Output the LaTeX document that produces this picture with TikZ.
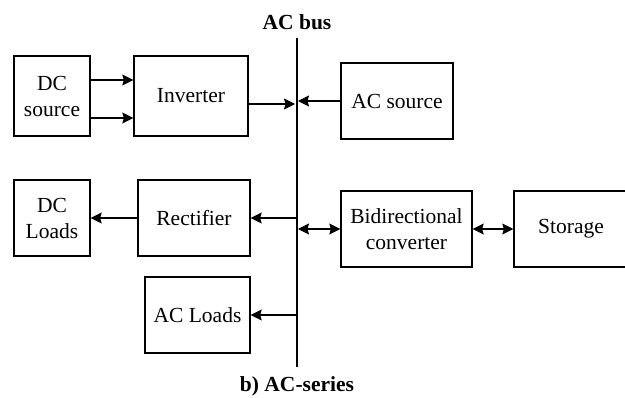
\documentclass[tikz,border=0pt]{standalone}
\usepackage{fontspec}
\setmainfont{Liberation Serif}
\newfontfamily\tnr{Liberation Serif}
\usetikzlibrary{arrows.meta}
\begin{document}
\begin{tikzpicture}[x=1pt,y=-1pt,
  blk/.style={draw,line width=1.3pt,inner sep=0pt,align=center,
    font=\tnr\fontsize{21.5}{26}\selectfont},
  arr/.style={line width=1.2pt,-{Stealth[length=11pt,width=11pt,inset=1.5pt]}},
  darr/.style={line width=1.2pt,{Stealth[length=11pt,width=11pt,inset=1.5pt]}-{Stealth[length=11pt,width=11pt,inset=1.5pt]}},
  lbl/.style={font=\tnr\bfseries\fontsize{21.5}{26}\selectfont}]
\useasboundingbox (0,0) rectangle (625,398);
% bus
\coordinate (bt) at (297,38);
\coordinate (bb) at (297,367);
\draw[line width=1.1pt] (bt) -- (bb);
\node[lbl] (buslbl) at (297,22) {AC bus};
\node[lbl] (cap) at (297,386) {b) AC-series};
% boxes
\node[blk,minimum width=76pt,minimum height=80pt] (dcs) at (52,96) {DC\\source};
\node[blk,minimum width=114pt,minimum height=80pt] (inv) at (191,96) {Inverter};
\node[blk,minimum width=112pt,minimum height=76pt] (acs) at (397,101) {AC source};
\node[blk,minimum width=76pt,minimum height=76pt] (dcl) at (52,218) {DC\\Loads};
\node[blk,minimum width=112pt,minimum height=76pt] (rec) at (194,218) {Rectifier};
\node[blk,minimum width=105pt,minimum height=76pt] (acl) at (197.5,315) {AC Loads};
\node[blk,minimum width=131pt,minimum height=76pt] (bc) at (406.5,229) {Bidirectional\\converter};
\node[blk,minimum width=114pt,minimum height=76pt] (sto) at (571,229) {Storage};
% connectors
\draw[arr] ([yshift=16pt]dcs.east) -- ([yshift=16pt]inv.west);
\draw[arr] ([yshift=-22pt]dcs.east) -- ([yshift=-22pt]inv.west);
\draw[arr,shorten >=2pt] ([yshift=-8pt]inv.east) -- ([yshift=-8pt]inv.east -| bt);
\draw[arr,shorten >=1pt] (acs.west) -- (acs.west -| bt);
\draw[arr] (rec.east -| bt) -- (rec.east);
\draw[arr] (rec.west) -- (dcl.east);
\draw[darr,shorten <=1pt] (bc.west -| bt) -- (bc.west);
\draw[darr] (bc.east) -- (sto.west);
\draw[arr] (acl.east -| bt) -- (acl.east);
\end{tikzpicture}
\end{document}
